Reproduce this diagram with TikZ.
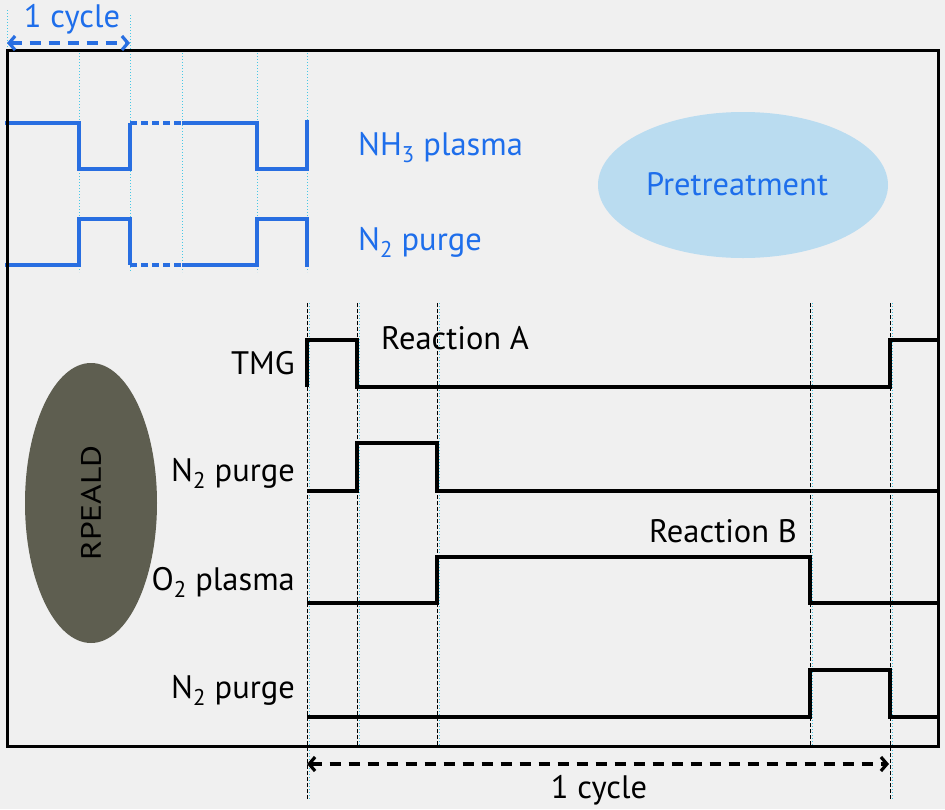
\documentclass[tikz,border=0pt]{standalone}
\usepackage{fontspec}
\setmainfont{PT Sans}
\usetikzlibrary{arrows.meta,shapes.geometric}
\definecolor{bg}{RGB}{240,240,240}
\definecolor{wblue}{RGB}{40,110,225}
\definecolor{tblue}{RGB}{30,110,235}
\definecolor{lblue}{RGB}{186,220,240}
\definecolor{olive}{RGB}{94,94,80}
\definecolor{guide}{RGB}{70,200,230}
\begin{document}
\begin{tikzpicture}[x=1pt,y=-1pt,
  lbl/.style={font=\fontsize{32.5}{38}\selectfont, inner sep=0pt},
  bluelbl/.style={lbl, text=tblue},
  bwave/.style={wblue, line width=3.5pt, line join=miter},
  kwave/.style={black, line width=3.5pt, line join=miter},
  cguide/.style={guide, dotted, line width=1pt},
  kguide/.style={black, line width=0.8pt, dash pattern=on 4pt off 2pt},
  cyc/.style={line width=3.2pt, dash pattern=on 11pt off 8pt, {Straight Barb[length=6pt,width=14pt]}-{Straight Barb[length=6pt,width=14pt]}}]
\fill[bg] (0,0) rectangle (945,809);
\useasboundingbox (0,0) rectangle (945,809);

% guides top (blue section)
\draw[cguide] (7,10) -- (7,272);
\draw[cguide] (130,15) -- (130,272);
\foreach \x in {79,182,257,307} \draw[cguide] (\x,50) -- (\x,272);

% guides bottom (black section)
\foreach \x in {307,890} {
  \draw[kguide] (\x,303) -- (\x,800);
  \draw[cguide] (\x+2.5,303) -- (\x+2.5,800);
}
\foreach \x in {357,437,810} {
  \draw[kguide] (\x,303) -- (\x,746);
  \draw[cguide] (\x+2.5,303) -- (\x+2.5,746);
}

% ellipses
\node[ellipse, fill=lblue, minimum width=290pt, minimum height=146pt, inner sep=0pt] (pre) at (743,185) {};
\node[bluelbl, anchor=base] (pretext) at (737,195) {Pretreatment};
\node[ellipse, fill=olive, minimum width=132pt, minimum height=280pt, inner sep=0pt] (rp) at (91,503) {};
\node[inner sep=0pt, rotate=90, xscale=1.2, font=\fontsize{28}{32}\selectfont] (rptext) at (rp.center) {RPEALD};

% blue waveforms
\draw[bwave] (5,123) -- (79,123) -- (79,169) -- (130,169) -- (130,123);
\draw[bwave, dash pattern=on 7pt off 4pt] (130,123) -- (182,123);
\draw[bwave] (182,123) -- (257,123) -- (257,169) -- (307,169) -- (307,120);
\draw[bwave] (5,265) -- (79,265) -- (79,219) -- (130,219) -- (130,265);
\draw[bwave, dash pattern=on 7pt off 4pt] (130,265) -- (182,265);
\draw[bwave] (182,265) -- (257,265) -- (257,219) -- (307,219) -- (307,267);

% black waveforms
\draw[kwave] (307,387) -- (307,340) -- (357,340) -- (357,387) -- (890,387) -- (890,340) -- (938,340);
\draw[kwave] (307,491) -- (357,491) -- (357,443) -- (437,443) -- (437,491) -- (938,491);
\draw[kwave] (307,603) -- (437,603) -- (437,557) -- (810,557) -- (810,603) -- (938,603);
\draw[kwave] (307,717) -- (810,717) -- (810,670) -- (890,670) -- (890,717) -- (938,717);

% frame
\draw[black, line width=3pt] (7,50) rectangle (938,746);

% blue labels
\node[bluelbl, anchor=base west] (nh3) at (358,155) {NH\textsubscript{3} plasma};
\node[bluelbl, anchor=base west] (n2top) at (358,250) {N\textsubscript{2} purge};
\node[bluelbl, anchor=base] (cyctop) at (72,27) {1 cycle};

% black labels
\node[lbl, anchor=base east] (tmg) at (295,374) {TMG};
\node[lbl, anchor=base east] (n2a) at (295,481) {N\textsubscript{2} purge};
\node[lbl, anchor=base east] (o2) at (295,590) {O\textsubscript{2} plasma};
\node[lbl, anchor=base east] (n2b) at (295,698) {N\textsubscript{2} purge};
\node[lbl, anchor=base west] (ra) at (381,349) {Reaction A};
\node[lbl, anchor=base east] (rb) at (797,542) {Reaction B};
\node[lbl, anchor=base] (cycbot) at (599,798) {1 cycle};

% cycle arrows
\coordinate (ta) at (7,43);
\coordinate (tb) at (130,43);
\draw[cyc, wblue] (ta) -- (tb);
\coordinate (ba) at (307,764);
\coordinate (bb) at (889,764);
\draw[cyc, black] (ba) -- (bb);
\end{tikzpicture}
\end{document}
